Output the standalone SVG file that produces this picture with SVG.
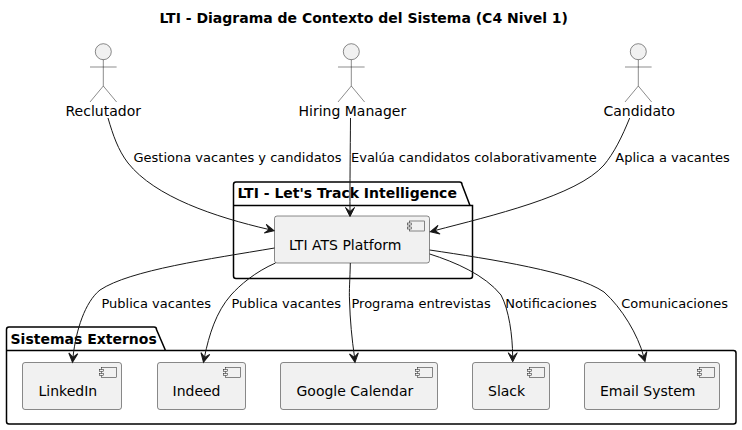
<svg xmlns="http://www.w3.org/2000/svg" width="742" height="430" viewBox="0 0 742 430">
<style>
text{font-family:"DejaVu Sans",sans-serif;fill:#000}
.t{font-size:14px;font-weight:700}
.n{font-size:14px}
.l{font-size:13px}
.pkg{fill:none;stroke:#000;stroke-width:1.5}
.box{fill:#f1f1f1;stroke:#181818;stroke-width:.5}
.ic{fill:#f1f1f1;stroke:#181818;stroke-width:.5}
.act{fill:none;stroke:#181818;stroke-width:.5}
.head{fill:#f1f1f1;stroke:#181818;stroke-width:.5}
.e{fill:none;stroke:#181818;stroke-width:1}
.a{fill:#181818;stroke:#181818;stroke-width:1}
</style>
<defs>
<g id="actor"><circle class="head" cx="0" cy="51.7" r="8"/><path class="act" d="M0 59.7V86M-13.3 67H13.3M0 86L-13.3 102M0 86L13.3 102"/></g>
<g id="icon"><rect class="ic" x="-20" y="5" width="15" height="10"/><rect class="ic" x="-22" y="7" width="4" height="2"/><rect class="ic" x="-22" y="11" width="4" height="2"/></g>
<path id="ah" class="a" d="M0 0L-9 -4.500L-5 0L-9 4.500Z"/>
</defs>
<text class="t" x="159.5" y="23">LTI - Diagrama de Contexto del Sistema (C4 Nivel 1)</text>
<g id="pkg-lti"><path class="pkg" d="M233.5 184.500a2.500 2.500 0 0 1 2.500-2.500H459.500a2.500 2.500 0 0 1 2.500 2.500L470 205.500H472.500V276a2.500 2.500 0 0 1-2.500 2.500H236a2.500 2.500 0 0 1-2.500-2.500ZM233.500 205.500H470"/><text class="t" x="237.5" y="198">LTI - Let's Track Intelligence</text></g>
<g id="pkg-ext"><path class="pkg" d="M6.500 329.500a2.500 2.500 0 0 1 2.500-2.500H154a2.500 2.500 0 0 1 2.500 2.500L165.500 350.500H733.500a2.500 2.500 0 0 1 2.500 2.500V421.500a2.500 2.500 0 0 1-2.500 2.500H9a2.500 2.500 0 0 1-2.500-2.500ZM6.500 350.500H165.500"/><text class="t" x="10.5" y="343.5">Sistemas Externos</text></g>
<g id="reclutador"><use href="#actor" x="103.3"/><text class="n" x="65.5" y="116">Reclutador</text></g>
<g id="hiring-manager"><use href="#actor" x="351.3"/><text class="n" x="298.5" y="116">Hiring Manager</text></g>
<g id="candidato"><use href="#actor" x="638.3"/><text class="n" x="603.5" y="116">Candidato</text></g>
<g id="ats"><rect class="box" x="274.5" y="216" width="155" height="47" rx="2.5"/><use href="#icon" x="429.5" y="216"/><text class="n" x="289" y="250">LTI ATS Platform</text></g>
<g id="linkedin"><rect class="box" x="22.5" y="362.5" width="99" height="47" rx="2.5"/><use href="#icon" x="121.5" y="362.5"/><text class="n" x="38.5" y="396">LinkedIn</text></g>
<g id="indeed"><rect class="box" x="157.5" y="362.5" width="88" height="47" rx="2.5"/><use href="#icon" x="245.5" y="362.5"/><text class="n" x="172.5" y="396">Indeed</text></g>
<g id="google"><rect class="box" x="280.5" y="362.5" width="157" height="47" rx="2.5"/><use href="#icon" x="437.5" y="362.5"/><text class="n" x="296.5" y="396">Google Calendar</text></g>
<g id="slack"><rect class="box" x="472.5" y="362.5" width="77" height="47" rx="2.5"/><use href="#icon" x="549.5" y="362.5"/><text class="n" x="488" y="396">Slack</text></g>
<g id="email"><rect class="box" x="584.5" y="362.5" width="135" height="47" rx="2.5"/><use href="#icon" x="719.5" y="362.5"/><text class="n" x="600" y="396">Email System</text></g>
<g id="connectors">
<path class="e" d="M108 118C113 135 118 150 128 163C155 197 215 217 269 229.500"/><use href="#ah" transform="translate(274 230.700) rotate(13)"/>
<path class="e" d="M350.500 118C350.300 150 349.800 185 350 212"/><use href="#ah" transform="translate(350 216.500) rotate(90)"/>
<path class="e" d="M629.700 118C622 137 614 153 604 165C577 196 490 216 435 230.500"/><use href="#ah" transform="translate(430.300 231.700) rotate(167)"/>
<path class="e" d="M274.500 248C210 259 130 270 100 290C85 302 76 330 73 357"/><use href="#ah" transform="translate(72.500 362.300) rotate(95)"/>
<path class="e" d="M275.500 263C255 272 240 285 231 295C216 312 209 335 204.500 357"/><use href="#ah" transform="translate(203.500 362.300) rotate(102)"/>
<path class="e" d="M350.300 263C350 280 349 290 349.500 300C350 320 352 340 354.500 357"/><use href="#ah" transform="translate(355 362.300) rotate(83)"/>
<path class="e" d="M429.700 254C455 262 485 275 501 295C509 310 512.500 335 512.700 357"/><use href="#ah" transform="translate(512.700 361.800) rotate(90)"/>
<path class="e" d="M429.700 250C490 259 575 272 604 292C622 308 638 335 643.700 356.500"/><use href="#ah" transform="translate(645 361.500) rotate(74)"/>
<text class="l" x="133.500" y="162">Gestiona vacantes y candidatos</text>
<text class="l" x="351" y="162">Evalúa candidatos colaborativamente</text>
<text class="l" x="615.300" y="162">Aplica a vacantes</text>
<text class="l" x="101.500" y="308">Publica vacantes</text>
<text class="l" x="231.500" y="308">Publica vacantes</text>
<text class="l" x="351.500" y="308">Programa entrevistas</text>
<text class="l" x="505.300" y="308">Notificaciones</text>
<text class="l" x="621.300" y="308">Comunicaciones</text>
</g>
</svg>
